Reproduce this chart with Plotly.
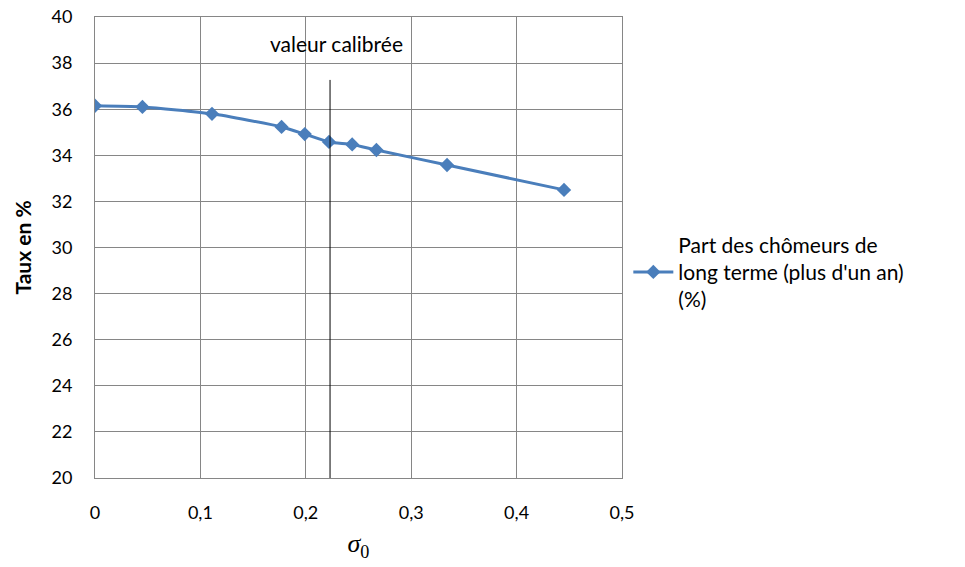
import plotly.graph_objects as go

sigma0 = [0.0, 0.045, 0.111, 0.177, 0.199, 0.222, 0.244, 0.267, 0.334, 0.445]
taux = [36.15, 36.10, 35.80, 35.23, 34.92, 34.58, 34.47, 34.23, 33.58, 32.50]
calib_x = 0.223
x_ticks = [0, 0.1, 0.2, 0.3, 0.4, 0.5]
x_ticklabels = ["0", "0,1", "0,2", "0,3", "0,4", "0,5"]
series_name = "Part des chômeurs de<br>long terme (plus d'un an)<br>(%)"

font = "Lato, 'Open Sans', sans-serif"

fig = go.Figure()
fig.add_trace(go.Scatter(
    x=sigma0, y=taux, mode="lines+markers", name=series_name,
    line=dict(color="#4a7ebb", width=3, shape="spline", smoothing=0.6),
    marker=dict(symbol="diamond", size=11, color="#4a7ebb"),
))
fig.add_shape(type="line", x0=calib_x, x1=calib_x, y0=19.45, y1=37.27,
              xref="x", yref="y", line=dict(color="black", width=1))
fig.add_annotation(x=0.229, y=38.83, text="valeur calibrée", showarrow=False,
                   xref="x", yref="y", font=dict(size=21, color="black", family=font))

fig.update_layout(
    width=965, height=567,
    margin=dict(l=87, r=351, t=9, b=97),
    paper_bgcolor="white", plot_bgcolor="white",
    font=dict(family=font, size=18, color="black"),
    showlegend=True,
    legend=dict(x=1.012, y=0.447, xanchor="left", yanchor="middle",
                font=dict(size=21, family=font), itemwidth=40, tracegroupgap=0),
    xaxis=dict(range=[0, 0.5], tickvals=x_ticks, ticktext=x_ticklabels,
               showgrid=True, gridcolor="#868686", gridwidth=1,
               showline=True, linecolor="#868686", mirror=True, automargin=False,
               ticks="", ticklabelstandoff=18, zeroline=False, ticklabeloverflow="allow",
               title=dict(text="<i>σ</i><sub>0</sub>", font=dict(size=26, family="Times New Roman, Liberation Serif, serif"), standoff=12)),
    yaxis=dict(range=[20, 40], dtick=2,
               showgrid=True, gridcolor="#868686", gridwidth=1,
               showline=True, linecolor="#868686", mirror=True, automargin=False,
               ticks="", ticklabelstandoff=18, zeroline=False, ticklabeloverflow="allow",
               title=dict(text="<b>Taux en %</b>", font=dict(size=21, family=font), standoff=14)),
)
fig.write_html("out.html")
